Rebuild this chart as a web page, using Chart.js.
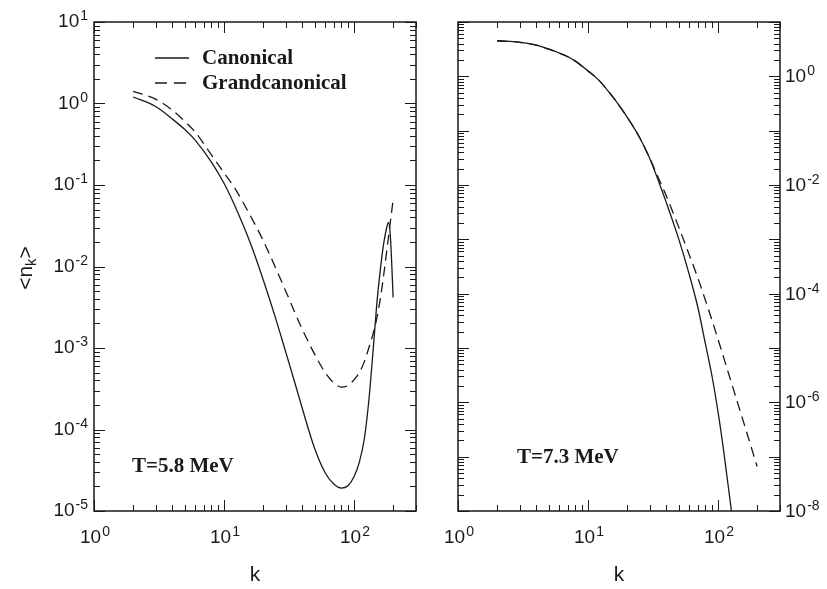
<!DOCTYPE html>
<html><head><meta charset="utf-8">
<script src="https://cdn.jsdelivr.net/npm/chart.js@4.4.1/dist/chart.umd.min.js"></script>
<style>
html,body{margin:0;padding:0;background:#fff;width:827px;height:589px;overflow:hidden}
#c1{position:absolute;left:0;top:0}
#c2{position:absolute;left:437px;top:0}
</style></head><body>
<canvas id="c1" width="437" height="589"></canvas>
<canvas id="c2" width="390" height="589"></canvas>
<script>
// ---- data ----
const seriesNames = ['Canonical', 'Grandcanonical'];
const panelLabels = ['T=5.8 MeV', 'T=7.3 MeV'];

// Left panel, T=5.8 MeV
const kLeftCan = [2, 3, 4, 5, 6, 8, 10, 12, 16, 20, 25, 30, 35, 40, 50, 60, 70, 80, 90, 100, 110, 120, 130, 140, 150, 160, 170, 180, 184, 190, 195, 200];
const nLeftCan = [1.202, 0.912, 0.646, 0.479, 0.355, 0.191, 0.105, 0.0575, 0.0191, 6.92e-3, 2.29e-3, 8.7e-4, 3.8e-4, 1.82e-4, 5.75e-5, 2.95e-5, 2.14e-5, 1.91e-5, 2.04e-5, 2.63e-5, 3.98e-5, 7.59e-5, 2.24e-4, 8.9e-4, 3.55e-3, 9.55e-3, 0.020, 0.0316, 0.0347, 0.0251, 0.0112, 4.17e-3];
const kLeftGc = [2, 3, 4, 5, 6, 8, 10, 12, 16, 20, 25, 30, 35, 40, 50, 60, 70, 80, 90, 100, 110, 120, 130, 140, 150, 160, 170, 180, 190, 200];
const nLeftGc = [1.413, 1.122, 0.832, 0.603, 0.447, 0.234, 0.141, 0.0933, 0.0417, 0.0209, 9.55e-3, 4.9e-3, 2.75e-3, 1.70e-3, 8.3e-4, 5.0e-4, 3.72e-4, 3.31e-4, 3.47e-4, 4.07e-4, 5.0e-4, 6.76e-4, 1.0e-3, 1.48e-3, 2.34e-3, 4.17e-3, 8.3e-3, 0.017, 0.0339, 0.066];

// Right panel, T=7.3 MeV
const kRightCan = [2, 3, 4, 5, 6, 7, 8, 10, 12, 16, 20, 25, 30, 35, 40, 50, 60, 70, 80, 90, 100, 110, 120, 127, 135];
const nRightCan = [4.52, 4.22, 3.76, 3.16, 2.69, 2.29, 1.905, 1.259, 0.871, 0.380, 0.178, 0.0741, 0.0302, 0.01148, 4.79e-3, 1.0e-3, 2.29e-4, 5.62e-5, 1.20e-5, 3.02e-6, 6.76e-7, 1.41e-7, 2.82e-8, 1.0e-8, 3.16e-9];
const kRightGc = [2, 3, 4, 5, 6, 7, 8, 10, 12, 16, 20, 25, 30, 35, 40, 50, 60, 70, 80, 90, 100, 120, 140, 160, 180, 200];
const nRightGc = [4.52, 4.22, 3.76, 3.16, 2.69, 2.29, 1.905, 1.259, 0.871, 0.380, 0.178, 0.0741, 0.0302, 0.0132, 6.31e-3, 1.66e-3, 5.25e-4, 1.95e-4, 7.59e-5, 3.24e-5, 1.45e-5, 3.55e-6, 1.07e-6, 3.8e-7, 1.51e-7, 6.6e-8];

// ticks
const xTickValues = [1, 10, 100];
const xTickExps = ['0', '1', '2'];
const yLeftTickValues = [10, 1, 0.1, 0.01, 1e-3, 1e-4, 1e-5];
const yLeftTickExps = ['1', '0', '-1', '-2', '-3', '-4', '-5'];
const yRightTickValues = [1, 1e-2, 1e-4, 1e-6, 1e-8];
const yRightTickExps = ['0', '-2', '-4', '-6', '-8'];

// ---- styling ----
const INK = '#1a1a1a';
const MAIN_FONT = '19px "Liberation Sans", Arial, sans-serif';
const SUP_FONT = '14px "Liberation Sans", Arial, sans-serif';
const SERIF_BOLD = 'bold 21px "Liberation Serif", "Times New Roman", serif';

function pts(ks, ns) { return ks.map((k, i) => ({x: k, y: ns[i]})); }
function ds(label, ks, ns, dashed) {
  return {label, data: pts(ks, ns), showLine: true, borderColor: INK, borderWidth: 1.3,
    borderDash: dashed ? [10, 6] : [], pointRadius: 0, cubicInterpolationMode: 'monotone', clip: 0};
}

function drawPow(ctx, exp, x, yc, align) {
  ctx.font = MAIN_FONT; const w1 = ctx.measureText('10').width;
  ctx.font = SUP_FONT; const w2 = ctx.measureText(exp).width;
  const tw = w1 + 1 + w2;
  const x0 = align === 'right' ? x - tw : align === 'center' ? x - tw / 2 : x;
  const base = yc + 7;
  ctx.fillStyle = INK; ctx.textAlign = 'left'; ctx.textBaseline = 'alphabetic';
  ctx.font = MAIN_FONT; ctx.fillText('10', x0, base);
  ctx.font = SUP_FONT; ctx.fillText(exp, x0 + w1 + 1, base - 7);
}

function logTicks(min, max) {
  const out = [];
  let d = Math.pow(10, Math.floor(Math.log10(min) + 1e-9));
  while (d <= max * 1.0001) {
    for (let m = 1; m <= 9; m++) {
      const v = d * m;
      if (v >= min * 0.9999 && v <= max * 1.0001) out.push({v, major: m === 1});
    }
    d *= 10;
  }
  return out;
}

function framePlugin(opts) {
  return {
    id: 'frame' + opts.side,
    afterDraw(chart) {
      const ctx = chart.ctx; const a = chart.chartArea;
      const xs = chart.scales.x, ys = chart.scales.y;
      ctx.save();
      ctx.strokeStyle = INK; ctx.lineWidth = 1;
      ctx.beginPath();
      for (const t of logTicks(xs.min, xs.max)) {
        const px = Math.round(xs.getPixelForValue(t.v)) + 0.5;
        const len = t.major ? 11 : 6;
        ctx.moveTo(px, a.bottom); ctx.lineTo(px, a.bottom - len);
        ctx.moveTo(px, a.top); ctx.lineTo(px, a.top + len);
      }
      for (const t of logTicks(ys.min, ys.max)) {
        const py = Math.round(ys.getPixelForValue(t.v)) + 0.5;
        const len = t.major ? 11 : 6;
        ctx.moveTo(a.left, py); ctx.lineTo(a.left + len, py);
        ctx.moveTo(a.right, py); ctx.lineTo(a.right - len, py);
      }
      ctx.stroke();
      ctx.lineWidth = 1.5;
      ctx.strokeRect(a.left, a.top, a.right - a.left, a.bottom - a.top);
      // x tick labels
      xTickValues.forEach((v, i) => drawPow(ctx, xTickExps[i], xs.getPixelForValue(v) + 1, a.bottom + 25, 'center'));
      // y tick labels
      opts.yVals.forEach((v, i) => {
        const py = ys.getPixelForValue(v);
        if (opts.side === 'left') drawPow(ctx, opts.yExps[i], a.left - 6, py - 2, 'right');
        else drawPow(ctx, opts.yExps[i], a.right + 5, py - 1, 'left');
      });
      // panel annotation
      ctx.fillStyle = INK; ctx.font = SERIF_BOLD; ctx.textBaseline = 'middle'; ctx.textAlign = 'left';
      ctx.fillText(opts.label, opts.labelX, opts.labelY);
      if (opts.legend) {
        const dsets = chart.data.datasets;
        const rows = [{y: 58, d: dsets[0]}, {y: 83, d: dsets[1]}];
        rows.forEach(r => {
          ctx.save();
          ctx.strokeStyle = r.d.borderColor; ctx.lineWidth = r.d.borderWidth;
          ctx.setLineDash(r.d.borderDash.length ? [12, 7] : []);
          ctx.beginPath(); ctx.moveTo(155, r.y); ctx.lineTo(189, r.y); ctx.stroke();
          ctx.restore();
          ctx.fillStyle = INK; ctx.font = SERIF_BOLD; ctx.textBaseline = 'middle';
          ctx.fillText(r.d.label, 202, r.y + 1);
        });
      }
      if (opts.yTitle) {
        ctx.save();
        ctx.translate(26, 268); ctx.rotate(-Math.PI / 2);
        ctx.fillStyle = INK; ctx.textBaseline = 'middle';
        const f1 = '21px "Liberation Sans", Arial, sans-serif';
        const f2 = '15px "Liberation Sans", Arial, sans-serif';
        ctx.font = f1; const wa = ctx.measureText('<n').width; const wc = ctx.measureText('>').width;
        ctx.font = f2; const wb = ctx.measureText('k').width;
        let x0 = -(wa + wb + wc) / 2;
        ctx.textAlign = 'left';
        ctx.font = f1; ctx.fillText('<n', x0, 0);
        ctx.font = f2; ctx.fillText('k', x0 + wa, 6);
        ctx.font = f1; ctx.fillText('>', x0 + wa + wb, 0);
        ctx.restore();
      }
      ctx.restore();
    }
  };
}

function makeChart(id, datasets, yMin, yMax, side, plugin, padding, yWidth) {
  return new Chart(document.getElementById(id), {
    type: 'scatter',
    data: {datasets},
    options: {
      responsive: false, animation: false, events: [],
      layout: {padding},
      plugins: {legend: {display: false}, tooltip: {enabled: false}},
      scales: {
        x: {type: 'logarithmic', min: 1, max: 300, position: 'bottom',
            grid: {display: false}, border: {display: false}, ticks: {display: false},
            title: {display: true, text: 'k', color: INK, font: {family: '"Liberation Sans", Arial, sans-serif', size: 21}, padding: {top: 0, bottom: 1}},
            afterFit(s) { s.height = 78; }},
        y: {type: 'logarithmic', min: yMin, max: yMax, position: side,
            grid: {display: false}, border: {display: false}, ticks: {display: false},
            afterFit(s) { s.width = yWidth; }}
      }
    },
    plugins: [plugin]
  });
}

makeChart('c1', [ds(seriesNames[0], kLeftCan, nLeftCan, false), ds(seriesNames[1], kLeftGc, nLeftGc, true)],
  1e-5, 10, 'left',
  framePlugin({side: 'left', yVals: yLeftTickValues, yExps: yLeftTickExps, label: panelLabels[0], labelX: 132, labelY: 467, legend: true, yTitle: true}),
  {top: 22, right: 21, left: 0, bottom: 0}, 94);

makeChart('c2', [ds(seriesNames[0], kRightCan, nRightCan, false), ds(seriesNames[1], kRightGc, nRightGc, true)],
  1e-8, 10, 'right',
  framePlugin({side: 'right', yVals: yRightTickValues, yExps: yRightTickExps, label: panelLabels[1], labelX: 80, labelY: 458, legend: false, yTitle: false}),
  {top: 22, right: 0, left: 21, bottom: 0}, 47);
</script>
</body></html>
